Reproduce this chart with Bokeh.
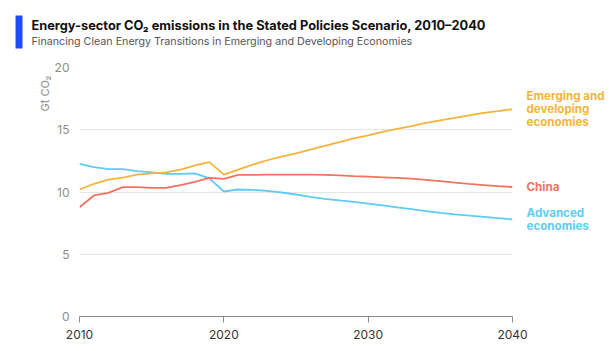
import math
from bokeh.plotting import figure
from bokeh.models import Range1d, FixedTicker
from bokeh.core.properties import value
from bokeh.embed import file_html
from bokeh.resources import INLINE

years = list(range(2010, 2041))

advanced = [12.26, 12.0, 11.83, 11.83, 11.67, 11.57, 11.46, 11.46, 11.5, 11.1,
            10.04, 10.2, 10.17, 10.09, 9.96, 9.8, 9.6, 9.45, 9.33, 9.2,
            9.07, 8.92, 8.77, 8.62, 8.47, 8.33, 8.2, 8.1, 8.0, 7.9, 7.8]
china = [8.78, 9.72, 9.93, 10.39, 10.39, 10.33, 10.33, 10.55, 10.82, 11.14,
         11.06, 11.38, 11.38, 11.4, 11.4, 11.4, 11.4, 11.38, 11.33, 11.27,
         11.23, 11.18, 11.13, 11.07, 10.98, 10.87, 10.75, 10.65, 10.56, 10.47, 10.4]
emerging = [10.2, 10.66, 11.0, 11.16, 11.4, 11.5, 11.57, 11.8, 12.13, 12.4,
            11.4, 11.8, 12.2, 12.55, 12.85, 13.1, 13.4, 13.7, 14.0, 14.3,
            14.55, 14.82, 15.07, 15.3, 15.55, 15.75, 15.95, 16.15, 16.35, 16.5, 16.65]

x_ticks = [2010, 2020, 2030, 2040]
y_ticks = [0, 5, 10, 15, 20]

title = "Energy-sector CO\u2082 emissions in the Stated Policies Scenario, 2010\u20132040"
subtitle = "Financing Clean Energy Transitions in Emerging and Developing Economies"
y_label = "Gt CO\u2082"

C_EM = "#F4B43C"
C_CN = "#F1725E"
C_AD = "#5ECCF3"
FONT = "Inter"

p = figure(width=609, height=351, output_backend="svg", toolbar_location=None,
           x_range=Range1d(2010, 2040), y_range=Range1d(0, 20),
           min_border_left=79, min_border_right=97, min_border_top=67,
           min_border_bottom=35)
p.outline_line_color = None
p.background_fill_color = "white"
p.border_fill_color = "white"

# axes
p.xaxis.ticker = FixedTicker(ticks=x_ticks)
p.yaxis.ticker = FixedTicker(ticks=y_ticks)
p.xaxis.axis_line_color = "#8a8a8a"
p.xaxis.axis_line_width = 1.2
p.xaxis.major_tick_line_color = "#8a8a8a"
p.xaxis.major_tick_out = 6
p.xaxis.major_tick_in = 0
p.xaxis.minor_tick_line_color = None
p.xaxis.major_label_text_font = FONT
p.xaxis.major_label_text_font_size = "12px"
p.xaxis.major_label_text_color = "#333333"
p.xaxis.major_label_standoff = 7

p.yaxis.axis_line_color = None
p.yaxis.major_tick_line_color = None
p.yaxis.minor_tick_line_color = None
p.yaxis.major_label_text_font = FONT
p.yaxis.major_label_text_font_size = "12px"
p.yaxis.major_label_text_color = "#8c8c8c"
p.yaxis.major_label_standoff = 4

p.xgrid.grid_line_color = None
p.ygrid.grid_line_color = "#e6e6e6"
p.ygrid.grid_line_width = 1

p.line(years, advanced, line_color=C_AD, line_width=1.8)
p.line(years, china, line_color=C_CN, line_width=1.8)
p.line(years, emerging, line_color=C_EM, line_width=1.8)

def txt(x, y, t, size, color, bold=False, align="left", angle=0.0,
        x_offset=0, y_offset=0):
    p.text(x=[x], y=[y], text=[t], text_font=value(FONT),
           text_font_size=value(size), text_color=color,
           text_font_style="bold" if bold else "normal",
           text_align=align, text_baseline="middle", angle=angle,
           x_offset=x_offset, y_offset=y_offset, level="overlay")

# series labels anchored at the last value
def add_lines(lines, yv, color, offsets):
    for t, off in zip(lines, offsets):
        txt(years[-1], yv, t, "11.6px", color, bold=True, x_offset=14, y_offset=off)

add_lines(["Emerging and", "developing", "economies"], emerging[-1], C_EM, [-13, 0, 13])
add_lines(["China"], china[-1], C_CN, [0])
add_lines(["Advanced", "economies"], advanced[-1], C_AD, [-6.5, 6.5])

# helpers to place headings relative to the frame (px from canvas)
px_per_year = (512 - 79) / 30.0
px_per_unit = (316 - 67) / 20.0
def dx(px):
    return 2010 + (px - 79) / px_per_year
def dy(py):
    return (316 - py) / px_per_unit

txt(dx(31), dy(25), title, "12.8px", "#111111", bold=True)
txt(dx(31), dy(40.5), subtitle, "10.7px", "#555555")
txt(dx(44), dy(93), y_label, "11px", "#8c8c8c", align="center", angle=math.pi / 2)

# blue accent bar
p.quad(left=[dx(15)], right=[dx(22)], top=[dy(15)], bottom=[dy(48)],
       fill_color="#1F4BFF", line_color=None, level="overlay")

open("out.html", "w").write(file_html(p, INLINE))
